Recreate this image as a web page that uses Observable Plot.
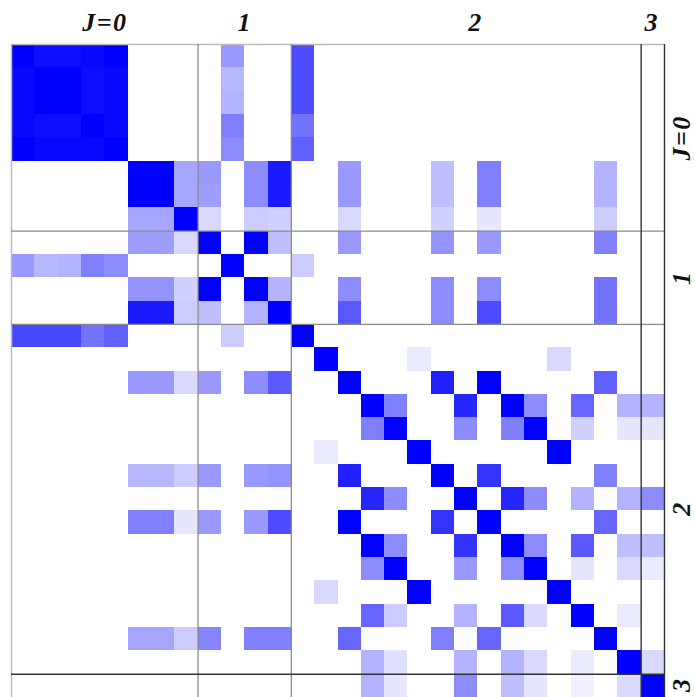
<!DOCTYPE html>
<html>
<head>
<meta charset="utf-8">
<script src="https://cdn.jsdelivr.net/npm/d3@7"></script>
<script src="https://cdn.jsdelivr.net/npm/@observablehq/plot@0.6"></script>
<style>
  html, body { margin: 0; padding: 0; background: #ffffff; }
  #chart svg { display: block; }
</style>
</head>
<body>
<div id="chart"></div>
<script>
// Block labels (J), their index ranges along both axes, and where each label sits
const groupLabels = ["J=0", "1", "2", "3"];
const groupStarts = [0, 8, 12, 27];
const groupEnds   = [8, 12, 27, 28];
const labelTicks  = [4, 10, 19.9, 27.45];

// Matrix rows, grouped by block. Each row has 28 values (0 = white, 1 = full blue).
const rowsJ0 = [
  [1,.95,.95,.97,1,0,0,0,   0,.4,0,0,    .7,0,0,0,0,0,0,0,0,0,0,0,0,0,0,   0],
  [.97,1,1,.95,.97,0,0,0,   0,.28,0,0,   .7,0,0,0,0,0,0,0,0,0,0,0,0,0,0,   0],
  [.97,1,1,.95,.97,0,0,0,   0,.3,0,0,    .7,0,0,0,0,0,0,0,0,0,0,0,0,0,0,   0],
  [.97,.95,.95,1,.97,0,0,0, 0,.5,0,0,    .55,0,0,0,0,0,0,0,0,0,0,0,0,0,0,  0],
  [1,.97,.97,.97,1,0,0,0,   0,.45,0,0,   .62,0,0,0,0,0,0,0,0,0,0,0,0,0,0,  0],
  [0,0,0,0,0,1,1,.35,       .4,0,.45,.9, 0,0,.4,0,0,0,.25,0,.5,0,0,0,0,.3,0, 0],
  [0,0,0,0,0,1,1,.35,       .38,0,.45,.9,0,0,.4,0,0,0,.25,0,.5,0,0,0,0,.3,0, 0],
  [0,0,0,0,0,.35,.35,1,     .15,0,.2,.18,0,0,.15,0,0,0,.18,0,.1,0,0,0,0,.2,0,0]
];
const rowsJ1 = [
  [0,0,0,0,0,.38,.38,.15,   1,0,1,.25,   0,0,.4,0,0,0,.42,0,.4,0,0,0,0,.5,0,  0],
  [.4,.28,.3,.5,.45,0,0,0,  0,1,0,0,     .2,0,0,0,0,0,0,0,0,0,0,0,0,0,0,     0],
  [0,0,0,0,0,.42,.42,.18,   1,0,1,.3,    0,0,.45,0,0,0,.45,0,.45,0,0,0,0,.55,0,0],
  [0,0,0,0,0,.9,.9,.2,      .25,0,.3,1,  0,0,.65,0,0,0,.45,0,.7,0,0,0,0,.55,0, 0]
];
const rowsJ2 = [
  [.72,.72,.72,.55,.62,0,0,0, 0,.2,0,0,  1,0,0,0,0,0,0,0,0,0,0,0,0,0,0,       0],
  [0,0,0,0,0,0,0,0,         0,0,0,0,     0,1,0,0,0,.08,0,0,0,0,0,.15,0,0,0,   0],
  [0,0,0,0,0,.4,.4,.15,     .4,0,.45,.65,0,0,1,0,0,0,.88,0,1,0,0,0,0,.62,0,   0],
  [0,0,0,0,0,0,0,0,         0,0,0,0,     0,0,0,1,.5,0,0,.85,0,1,.45,0,.6,0,.3, .3],
  [0,0,0,0,0,0,0,0,         0,0,0,0,     0,0,0,.5,1,0,0,.45,0,.5,1,0,.18,0,.1, .1],
  [0,0,0,0,0,0,0,0,         0,0,0,0,     0,.08,0,0,0,1,0,0,0,0,0,1,0,0,0,     0],
  [0,0,0,0,0,.28,.28,.2,    .4,0,.4,.42, 0,0,.88,0,0,0,1,0,.8,0,0,0,0,.5,0,   0],
  [0,0,0,0,0,0,0,0,         0,0,0,0,     0,0,0,.85,.45,0,0,1,0,.85,.45,0,.3,0,.3, .45],
  [0,0,0,0,0,.5,.5,.1,      .4,0,.4,.7,  0,0,1,0,0,0,.8,0,1,0,0,0,0,.6,0,     0],
  [0,0,0,0,0,0,0,0,         0,0,0,0,     0,0,0,1,.45,0,0,.8,0,1,.45,0,.65,0,.25, .25],
  [0,0,0,0,0,0,0,0,         0,0,0,0,     0,0,0,.45,1,0,0,.4,0,.45,1,0,.1,0,.15, .08],
  [0,0,0,0,0,0,0,0,         0,0,0,0,     0,.15,0,0,0,1,0,0,0,0,0,1,0,0,0,     0],
  [0,0,0,0,0,0,0,0,         0,0,0,0,     0,0,0,.6,.2,0,0,.3,0,.65,.15,0,1,0,.08, 0],
  [0,0,0,0,0,.35,.35,.2,    .48,0,.5,.5, 0,0,.6,0,0,0,.5,0,.6,0,0,0,0,1,0,    0],
  [0,0,0,0,0,0,0,0,         0,0,0,0,     0,0,0,.3,.12,0,0,.3,0,.3,.15,0,.08,0,1, .15]
];
const rowsJ3 = [
  [0,0,0,0,0,0,0,0,         0,0,0,0,     0,0,0,.3,.1,0,0,.45,0,.25,.1,0,.05,0,.15, 1]
];

const allRows = [...rowsJ0, ...rowsJ1, ...rowsJ2, ...rowsJ3];
const n = allRows.length;

const cells = [];
allRows.forEach((row, r) => row.forEach((v, c) => cells.push({r, c, v})));

const groups = groupLabels.map((label, i) => ({label, at: labelTicks[i]}));

const labelFont = {
  fontFamily: "Liberation Serif",
  fontStyle: "italic",
  fontWeight: "bold",
  fontSize: 26,
  fill: "#111"
};

const chart = Plot.plot({
  width: 695,
  height: 697,
  marginLeft: 11,
  marginTop: 44,
  marginRight: 31,
  marginBottom: 0,
  x: {domain: [0, n], axis: null},
  y: {domain: [0, n], reverse: true, axis: null},
  color: {type: "linear", domain: [0, 1], range: ["#ffffff", "#0000ff"], interpolate: "rgb"},
  style: {background: "#ffffff", overflow: "visible", letterSpacing: "1.5px"},
  marks: [
    Plot.rect(cells, {
      x1: "c", x2: d => d.c + 1,
      y1: "r", y2: d => d.r + 1,
      fill: "v",
      shapeRendering: "crispEdges"
    }),
    // border (top/left light gray)
    Plot.ruleX([groupStarts[0]], {stroke: "#bbbbbb", strokeWidth: 1.5}),
    Plot.ruleY([groupStarts[0]], {stroke: "#bbbbbb", strokeWidth: 1.5}),
    // inner block separators
    Plot.ruleX(groupStarts.slice(1, 3), {stroke: "#8a8a8a", strokeWidth: 1.3}),
    Plot.ruleY(groupStarts.slice(1, 3), {stroke: "#8a8a8a", strokeWidth: 1.3}),
    // last block separators and right border (dark)
    Plot.ruleX([groupStarts[3], groupEnds[3]], {stroke: "#333333", strokeWidth: 1.4}),
    Plot.ruleY([groupStarts[3]], {stroke: "#333333", strokeWidth: 1.4}),
    // labels
    Plot.text(groups, {
      x: "at", text: "label", frameAnchor: "top", dy: -22,
      textAnchor: "middle", lineAnchor: "middle", ...labelFont
    }),
    Plot.text(groups, {
      y: "at", text: "label", frameAnchor: "right", dx: 17, rotate: -90,
      textAnchor: "middle", lineAnchor: "middle", ...labelFont
    })
  ]
});

document.getElementById("chart").appendChild(chart);
</script>
</body>
</html>
